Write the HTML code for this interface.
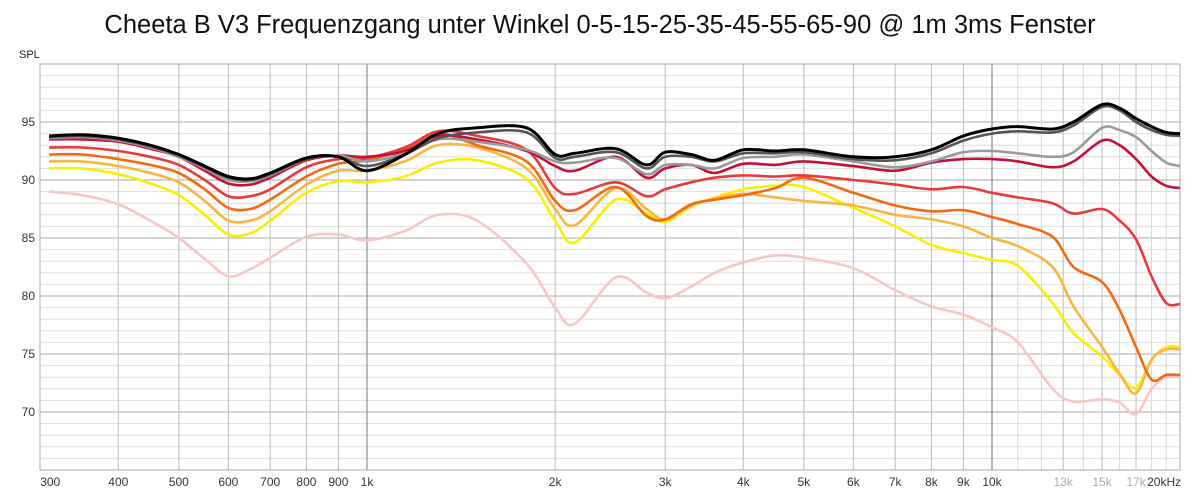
<!DOCTYPE html>
<html><head><meta charset="utf-8">
<style>
html,body{margin:0;padding:0;background:#fff;}
svg{display:block;font-family:"Liberation Sans",sans-serif;}
</style></head>
<body>
<svg id="chart" width="1200" height="495" viewBox="0 0 1200 495">
<text x="600" y="33" text-anchor="middle" font-size="25.5" fill="#111">Cheeta B V3 Frequenzgang unter Winkel 0-5-15-25-35-45-55-65-90 @ 1m 3ms Fenster</text>
<text x="19" y="58" font-size="11" fill="#222">SPL</text>
<g id="grid"></g>
<g id="ticks"></g>
<g id="series"></g>
</svg>
<script>
const freqs=[310,350,400,450,500,550,600,650,700,800,900,1000,1150,1300,1500,1800,2000,2150,2500,2800,3000,3300,3600,4000,4500,5000,6000,7000,8000,9000,10000,11000,12500,13500,15000,16000,17000,18000,19000,20000];
const s0=[93.8,93.9,93.6,93.0,92.2,91.2,90.3,90.1,90.6,91.9,92.0,90.8,92.2,94.0,94.5,94.5,92.2,92.3,92.7,91.3,92.4,92.2,91.7,92.6,92.5,92.6,92.0,92.0,92.6,93.8,94.4,94.6,94.4,95.0,96.5,96.2,95.3,94.6,94.1,94.0];
const s5=[93.7,93.8,93.5,92.9,92.1,91.1,90.2,90.0,90.5,91.8,92.0,91.2,92.2,93.6,94.1,94.1,91.9,92.0,92.4,91.0,92.0,92.0,91.6,92.3,92.3,92.4,91.8,91.7,92.3,93.4,94.0,94.2,94.1,94.7,96.3,96.0,95.0,94.3,93.9,93.8];
const s15=[93.6,93.7,93.4,92.8,92.0,91.0,90.0,89.9,90.4,91.8,92.1,91.6,92.3,93.5,93.3,92.6,91.6,91.5,91.9,90.5,91.3,91.3,91.0,91.9,92.0,92.2,91.6,91.1,91.6,92.4,92.5,92.3,92.0,92.4,94.5,94.3,93.7,92.5,91.5,91.2];
const s25=[93.5,93.5,93.3,92.7,92.0,90.8,89.7,89.6,90.2,91.7,92.1,92.0,92.5,93.8,93.5,92.5,91.2,90.8,92.0,90.2,91.0,91.3,90.6,91.4,91.3,91.6,91.2,90.8,91.5,91.8,91.8,91.6,91.1,91.6,93.4,93.0,91.8,90.3,89.5,89.3];
const s35=[92.8,92.8,92.5,92.0,91.3,90.0,88.6,88.6,89.2,91.1,91.8,91.9,92.8,94.2,93.8,92.6,89.3,88.8,89.8,88.6,89.2,89.8,90.2,90.4,90.3,90.4,90.0,89.6,89.2,89.4,88.9,88.5,88.0,87.1,87.5,86.5,84.9,81.7,79.4,79.3];
const s45=[92.2,92.2,91.8,91.3,90.6,89.2,87.6,87.5,88.3,90.3,91.4,91.7,92.7,94.0,93.0,91.6,88.2,87.4,89.4,86.9,86.6,87.9,88.3,88.7,89.3,90.2,88.9,87.8,87.3,87.4,86.8,86.2,85.1,82.5,81.2,78.8,75.6,72.8,73.2,73.2];
const s55=[91.6,91.6,91.2,90.6,89.8,88.2,86.5,86.5,87.3,89.6,90.8,90.8,91.6,93.0,92.8,91.0,87.5,86.1,89.3,87.5,86.6,87.8,88.4,88.8,88.5,88.2,87.8,87.0,86.6,86.0,85.0,84.3,82.5,79.1,75.6,73.3,71.6,74.5,75.4,75.4];
const s65=[91.0,91.0,90.5,89.7,88.7,87.0,85.3,85.4,86.5,88.9,89.9,89.8,90.3,91.5,91.7,90.1,86.5,84.6,88.3,87.1,86.4,87.7,88.5,89.2,89.5,89.4,87.6,86.0,84.4,83.7,83.1,82.6,79.4,76.8,74.8,73.2,72.1,74.5,75.6,75.6];
const s90=[89.0,88.7,87.9,86.5,85.0,83.2,81.7,82.3,83.3,85.1,85.3,84.8,85.6,87.0,86.5,82.8,79.0,77.6,81.6,80.3,79.8,80.8,82.0,82.9,83.5,83.3,82.4,80.5,79.1,78.4,77.3,76.0,72.0,70.9,71.1,70.8,69.8,72.0,73.0,73.0];
const yTicks=[70,75,80,85,90,95];
const xTickLabels=[[300,"300"],[400,"400"],[500,"500"],[600,"600"],[700,"700"],[800,"800"],[900,"900"],[1000,"1k"],[2000,"2k"],[3000,"3k"],[4000,"4k"],[5000,"5k"],[6000,"6k"],[7000,"7k"],[8000,"8k"],[9000,"9k"],[10000,"10k"],[13000,"13k"],[15000,"15k"],[17000,"17k"],[20000,"20kHz"]];

const L=40,R=1180,T=64,B=470,YMIN=65,YMAX=100;
const x=f=>367+625*Math.log10(f/1000);
const y=v=>T+(YMAX-v)*(B-T)/(YMAX-YMIN);
const NS="http://www.w3.org/2000/svg";
function mk(tag,attrs,parent){const e=document.createElementNS(NS,tag);for(const k in attrs)e.setAttribute(k,attrs[k]);parent.appendChild(e);return e;}
const grid=document.getElementById('grid'),ticks=document.getElementById('ticks'),ser=document.getElementById('series');
for(let v=YMIN;v<=YMAX;v++){
  const l=mk('line',{x1:L,x2:R,y1:y(v),y2:y(v),stroke:v%5===0?'#aaa':'#dedede','stroke-width':1},grid);
  
  
}
const vlines=[400,500,600,700,800,900,1000,2000,3000,4000,5000,6000,7000,8000,9000,10000,11000,12000,13000,14000,15000,16000,17000,18000,19000];
vlines.forEach(f=>{
  const major=(f===1000||f===10000);
  const minor=f>10000&&[13000,15000,17000].indexOf(f)<0;
  const l=mk('line',{x1:x(f),x2:x(f),y1:T,y2:B,stroke:major?'#777':(minor?'#d8d8d8':'#bbb'),'stroke-width':1},grid);
  
  
});
const fr=mk('path',{d:`M${L},${T}H${R}V${B}H${L}Z`,fill:'none',stroke:'#aaa','stroke-width':1},grid);


yTicks.forEach(v=>{
  const t=mk('text',{x:35,y:y(v)+4,'text-anchor':'end','font-size':12,fill:'#333'},ticks);
  t.textContent=v;
  
  
});
xTickLabels.forEach(([f,s])=>{
  const gray=(f===13000||f===15000||f===17000);
  const t=mk('text',{x:f===20000?x(f)-16:x(f),y:486,'text-anchor':f===300?'start':'middle','font-size':12,fill:gray?'#aaa':'#333'},ticks);
  t.textContent=s;
  
  
});
function path(vals){
  const p=freqs.map((f,i)=>[x(f),y(vals[i])]);
  let d=`M${p[0][0].toFixed(1)},${p[0][1].toFixed(1)}`;
  for(let i=0;i<p.length-1;i++){
    const p0=p[Math.max(0,i-1)],p1=p[i],p2=p[i+1],p3=p[Math.min(p.length-1,i+2)];
    const c1=[p1[0]+(p2[0]-p0[0])/6,p1[1]+(p2[1]-p0[1])/6];
    const c2=[p2[0]-(p3[0]-p1[0])/6,p2[1]-(p3[1]-p1[1])/6];
    d+=`C${c1[0].toFixed(1)},${c1[1].toFixed(1)} ${c2[0].toFixed(1)},${c2[1].toFixed(1)} ${p2[0].toFixed(1)},${p2[1].toFixed(1)}`;
  }
  return d;
}
const list=[[s90,'#f9c6c6','series-90deg'],[s65,'#f7f000','series-65deg'],[s55,'#f8b640','series-55deg'],[s45,'#f26a12','series-45deg'],[s35,'#e83a3c','series-35deg'],[s25,'#c5103a','series-25deg'],[s15,'#9a9a9a','series-15deg'],[s5,'#555','series-5deg'],[s0,'#000','series-0deg']];
list.forEach(([v,c,n])=>{
  const e=mk('path',{d:path(v),fill:'none',stroke:c,'stroke-width':n==='series-0deg'?3:2.6,'stroke-linejoin':'round'},ser);
  
  
});
</script>
</body></html>
